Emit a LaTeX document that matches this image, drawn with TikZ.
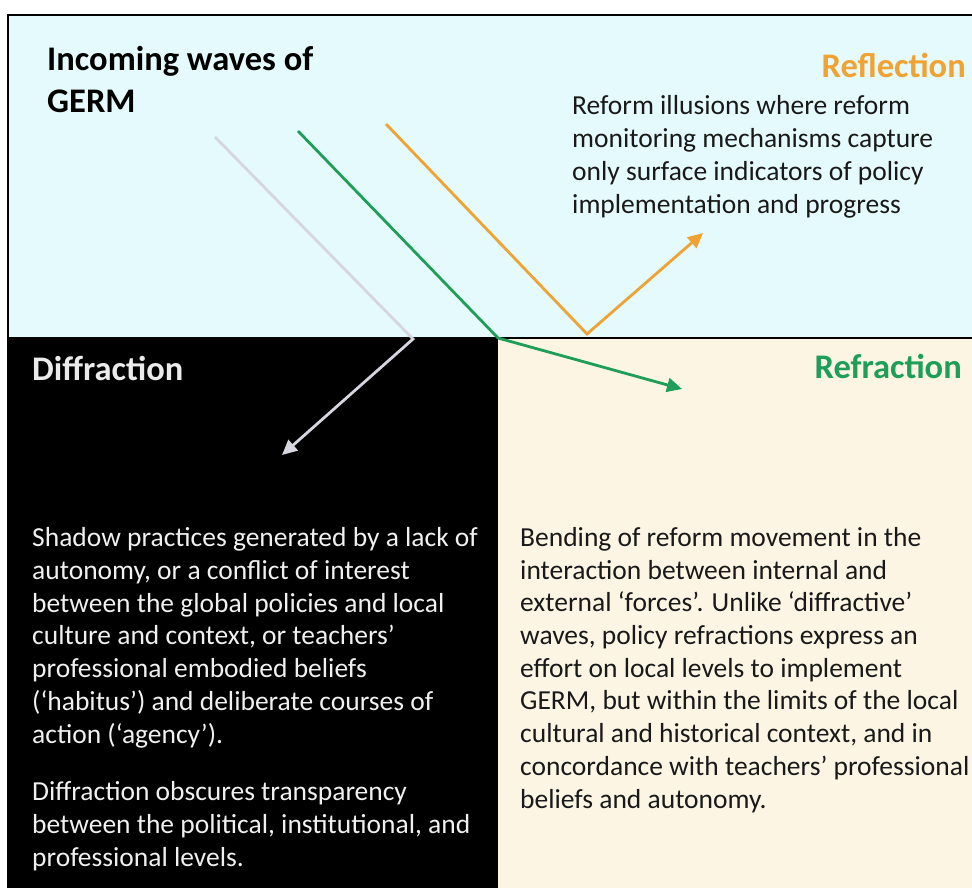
\documentclass[tikz,border=0pt]{standalone}
\usepackage{fontspec}
\setmainfont{Carlito}
\usetikzlibrary{arrows.meta}

\definecolor{skyfill}{RGB}{228,250,252}
\definecolor{sandfill}{RGB}{253,245,228}
\definecolor{reflorange}{RGB}{240,163,50}
\definecolor{refrgreen}{RGB}{30,158,88}
\definecolor{diffgray}{RGB}{214,214,224}
\newcommand{\HeadFont}{\fontsize{34.5}{42}\selectfont\bfseries}
\newcommand{\BodyFont}{\fontsize{27.5}{32.7}\selectfont}

\begin{document}
\begin{tikzpicture}[x=1pt,y=-1pt,
  heading/.style={inner sep=0pt, align=left, font=\HeadFont},
  body/.style={inner sep=0pt, align=left, font=\BodyFont},
  wave/.style={line width=2.8pt, line join=miter, -{Triangle[length=15pt,width=14pt]}}]
%\draw [help lines] (0,0) grid[step=50] (972,888);

\useasboundingbox (0,0) rectangle (972,888);

% Panels
\fill[skyfill]  (8,15)   rectangle (972,338);
\fill[black]    (8,338)  rectangle (498,888);
\fill[sandfill] (498,338) rectangle (972,888);
\draw[line width=1.5pt] (8,888) -- (8,15) -- (972,15);
\draw[line width=1.5pt] (8,338) -- (972,338);

% Headings (multi-line nodes sit on their last baseline)
\node[heading, anchor=base west]                   (germ) at (47,113) {Incoming waves of\\GERM};
\node[heading, anchor=base east, text=reflorange]  (refl) at (966,78)  {Reflection};
\node[heading, anchor=base west, text=white!92!black] (diff) at (32,380) {Diffraction};
\node[heading, anchor=base east, text=refrgreen]   (refr) at (962,378) {Refraction};

% Descriptions
\node[body, anchor=base west, text=black!90] (refltxt) at (572,213)
  {Reform illusions where reform\\monitoring mechanisms capture\\only surface indicators of policy\\implementation and progress};
\node[body, anchor=base west, text=white!94!black] (difftxt) at (32,743)
  {Shadow practices generated by a lack of\\autonomy, or a conflict of interest\\between the global policies and local\\culture and context, or teachers’\\professional embodied beliefs\\(‘habitus’) and deliberate courses of\\action (‘agency’).};
\node[body, anchor=base west, text=white!94!black] (diffnote) at (32,866)
  {Diffraction obscures transparency\\between the political, institutional, and\\professional levels.};
\node[body, anchor=base west, text=black!90] (refrtxt) at (520,808)
  {Bending of reform movement in the\\interaction between internal and\\external ‘forces’. Unlike ‘diffractive’\\waves, policy refractions express an\\effort on local levels to implement\\GERM, but within the limits of the local\\cultural and historical context, and in\\concordance with teachers’ professional\\beliefs and autonomy.};

% Wave paths: start, hit point on the boundary, end
\coordinate (g0) at (215,137);
\coordinate (g1) at (413,339);
\coordinate (g2) at (282,455);
\coordinate (r0) at (298,131);
\coordinate (r1) at (498,338);
\coordinate (r2) at (682,389);
\coordinate (o0) at (386,124);
\coordinate (o1) at (587,334);
\coordinate (o2) at (703,233);

% Edges
\draw[wave, diffgray]   (g0) -- (g1) -- (g2);
\draw[wave, refrgreen]  (r0) -- (r1) -- (r2);
\draw[wave, reflorange] (o0) -- (o1) -- (o2);

\end{tikzpicture}
\end{document}
